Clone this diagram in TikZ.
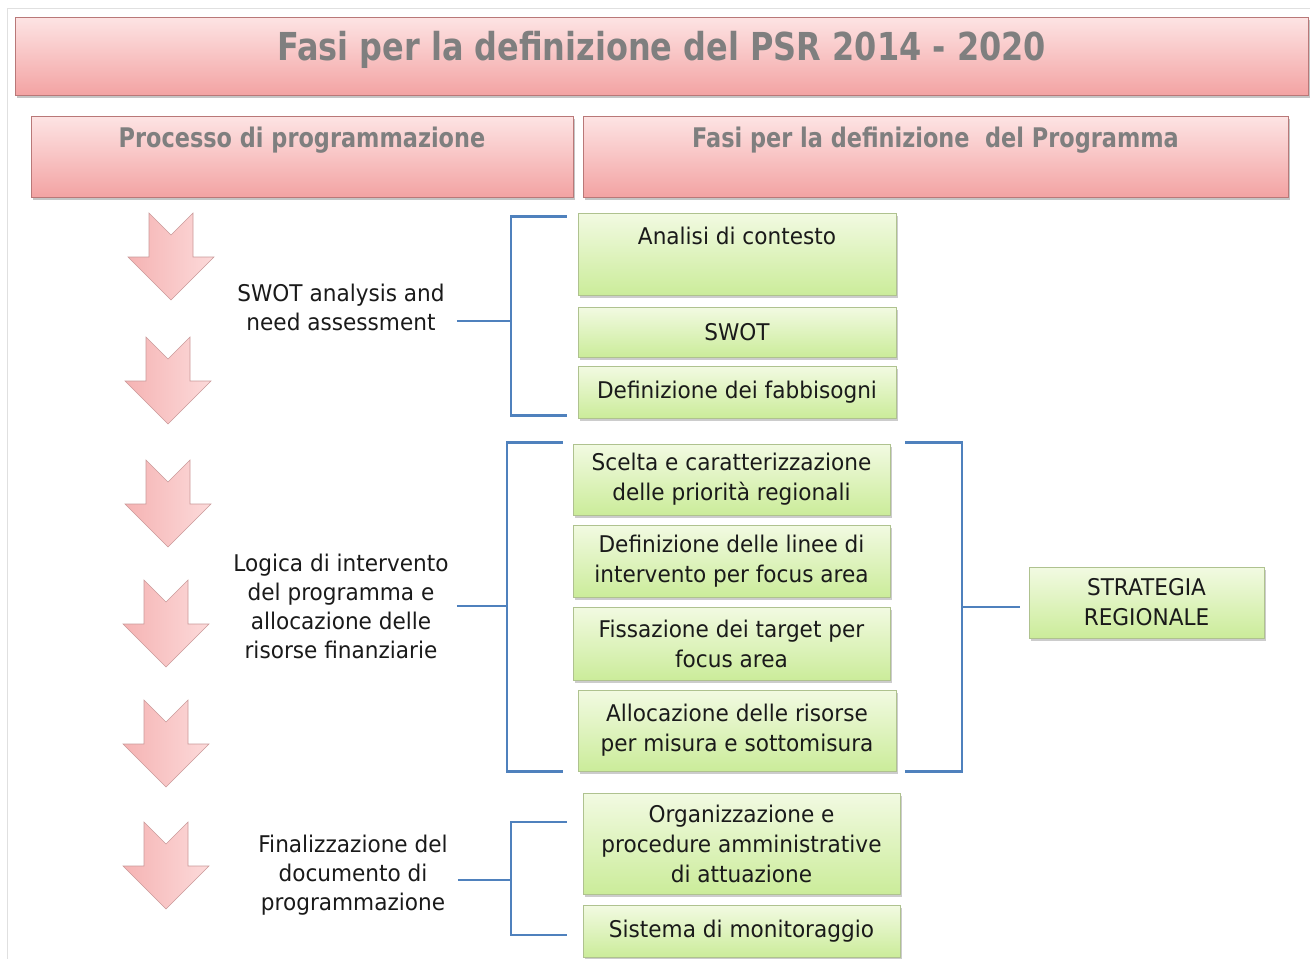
\documentclass[tikz,border=0pt]{standalone}
\usepackage{fontspec}
\setmainfont{DejaVu Sans}[FakeStretch=0.94]
\newfontfamily\hdfont{DejaVu Sans}[FakeStretch=0.83]
\usetikzlibrary{shadows}
\definecolor{pinkT}{HTML}{FDE4E4}
\definecolor{pinkB}{HTML}{F3A3A3}
\definecolor{pinkD}{HTML}{B97878}
\definecolor{arrL}{HTML}{F5B3B3}
\definecolor{arrR}{HTML}{FCDADA}
\definecolor{greenT}{HTML}{F2FAE2}
\definecolor{greenB}{HTML}{CBEC9A}
\definecolor{greenD}{HTML}{AFC28F}
\definecolor{lineB}{HTML}{4F81BD}
\definecolor{hdgray}{HTML}{7F7F7F}
\definecolor{txt}{HTML}{1A1A1A}
\tikzstyle{T} = [rectangle,draw=pinkD,line width=0.8pt,top color=pinkT,bottom color=pinkB,inner sep=0pt,text=hdgray,font=\hdfont\bfseries\fontsize{38.5}{40}\selectfont,drop shadow={shadow xshift=2pt,shadow yshift=-2.5pt,fill=black!45,opacity=0.5}]
\tikzstyle{H} = [T,font=\hdfont\bfseries\fontsize{27}{30}\selectfont,text height=31pt,text depth=50pt]
\tikzstyle{G} = [rectangle,draw=greenD,line width=0.7pt,top color=greenT,bottom color=greenB,align=center,inner sep=2pt,text=txt,font=\fontsize{23}{30}\selectfont,drop shadow={shadow xshift=2pt,shadow yshift=-2.5pt,fill=black!40,opacity=0.5}]
\tikzstyle{L} = [align=center,inner sep=4pt,text=txt,font=\fontsize{23}{29}\selectfont]
\tikzstyle{B} = [draw=lineB,line width=2.4pt]
\tikzset{parrow/.pic={
	\draw [pinkD!75,line width=0.6pt,left color=arrL,right color=arrR]
	(-22,0) -- (0,22) -- (22,0) -- (22,44) -- (43,44) -- (0,87) -- (-43,44) -- (-22,44) -- cycle;}}

\begin{document}
\begin{tikzpicture}[x=1pt,y=-1pt]
	\useasboundingbox (0,0) rectangle (1310,959);
	\draw [black!12] (7,8) rectangle (1310,959);
	
	\node [T,minimum width=1293pt,text height=43pt,text depth=35pt] (title) at(661.5,56) {Fasi per la definizione del PSR 2014 - 2020};
	\node [H,minimum width=542pt] (h1) at(302,156.5) {Processo di programmazione};
	\node [H,minimum width=705pt] (h2) at(935.5,156.5) {Fasi per la definizione\ \ del Programma};
	%%%%%%%%%%%%%%%
	\pic at (171,213) {parrow};
	\pic at (168,337) {parrow};
	\pic at (168,460) {parrow};
	\pic at (166,580) {parrow};
	\pic at (166,700) {parrow};
	\pic at (166,822) {parrow};
	%%%%%%%%%%%%%%%
	\node [L] (l1) at(341,307) {SWOT analysis and\\need assessment};
	\node [G,minimum width=318pt,text height=31pt,text depth=51pt,inner sep=0pt] (ana) at(737,254) {Analisi di contesto};
	\node [G,minimum width=318pt,minimum height=50pt] (swot) at(737,332) {SWOT};
	\node [G,minimum width=318pt,minimum height=52pt] (fab) at(737,392) {Definizione dei fabbisogni};
	\coordinate (b1) at (511,321);
	\draw [B,shorten <=8pt] (l1.east |- b1) -- (b1);
	\draw [B,shorten <=11pt,shorten >=11pt] ([yshift=-4pt]ana.north west) -| (b1) |- ([yshift=3pt]fab.south west);
	%%%%%%%%%%%%%%%
	\node [L] (l2) at(341,606) {Logica di intervento\\del programma e\\allocazione delle\\risorse finanziarie};
	\node [G,minimum width=317pt,minimum height=71pt] (sce) at(731.5,479.5) {Scelta e caratterizzazione\\delle priorità regionali};
	\node [G,minimum width=317pt,minimum height=72pt] (lin) at(731.5,561) {Definizione delle linee di\\intervento per focus area};
	\node [G,minimum width=317pt,minimum height=73pt] (fis) at(731.5,643.5) {Fissazione dei target per\\focus area};
	\node [G,minimum width=318pt,minimum height=81pt] (all) at(737,730.5) {Allocazione delle risorse\\per misura e sottomisura};
	\coordinate (b2) at (507,606);
	\draw [B,shorten <=4pt] (l2.east |- b2) -- (b2);
	\draw [B,shorten <=10pt,shorten >=15pt] ([yshift=1pt]sce.north west) -| (b2) |- (all.south west);
	%----
	\node [G,minimum width=235pt,minimum height=71pt] (strat) at(1146.5,602.5) {STRATEGIA\\REGIONALE};
	\coordinate (b3) at (962,607);
	\draw [B,shorten <=15pt,shorten >=9pt] ([yshift=1pt]sce.north east) -| (b3) |- (all.south east);
	\draw [B,shorten >=9pt] (b3) -- (strat.west |- b3);
	%%%%%%%%%%%%%%%
	\node [L] (l3) at(353,875) {Finalizzazione del\\documento di\\programmazione};
	\node [G,minimum width=317pt,minimum height=101pt] (org) at(741.5,843.5) {Organizzazione e\\procedure amministrative\\di attuazione};
	\node [G,minimum width=317pt,minimum height=52pt] (mon) at(741.5,931) {Sistema di monitoraggio};
	\coordinate (b4) at (511,880);
	\draw [B,shorten <=6pt] (l3.east |- b4) -- (b4);
	\draw [B,shorten <=16pt,shorten >=16pt] ([yshift=21.5pt]org.west) -| (b4) |- ([yshift=-4pt]mon.west);
	
\end{tikzpicture}
\end{document}
